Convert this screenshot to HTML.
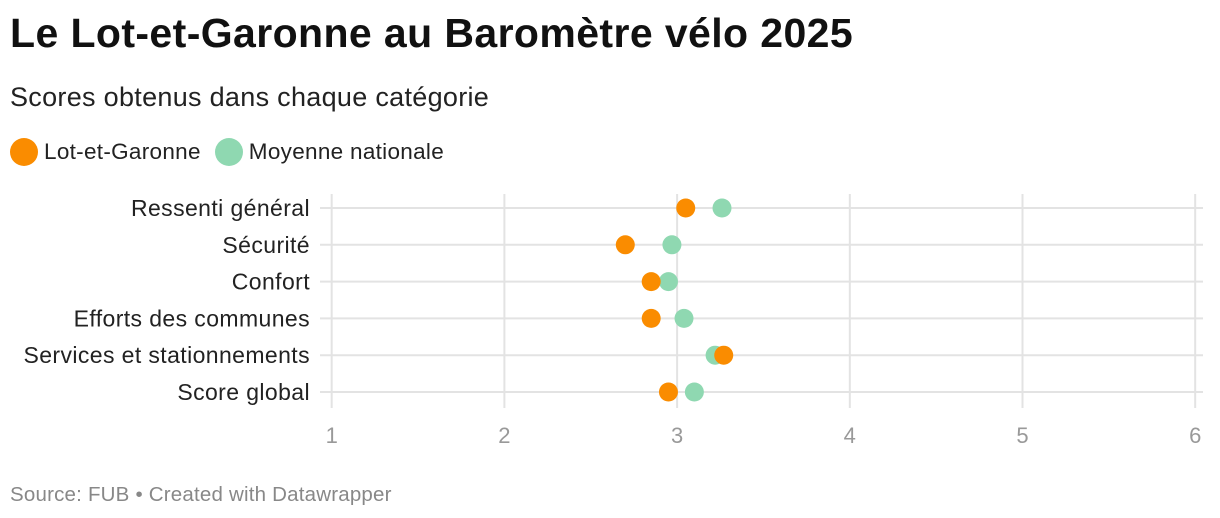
<!DOCTYPE html>
<html><head><meta charset="utf-8"><style>
body{margin:0;width:1220px;height:518px;background:#fff;font-family:"Liberation Sans",sans-serif;overflow:hidden}
h1{position:absolute;left:10px;top:10px;margin:0;font-size:41px;font-weight:bold;color:#111;letter-spacing:0.4px}
.sub{position:absolute;left:10px;top:82px;font-size:27px;color:#222;letter-spacing:0.3px}
.legend{position:absolute;left:10px;top:138px;font-size:22.5px;color:#222;display:flex;align-items:center;letter-spacing:0.3px}
.dot{width:28px;height:28px;border-radius:50%;display:inline-block;margin-right:6px}
.src{position:absolute;left:10px;top:483px;font-size:20.5px;color:#888;letter-spacing:0.2px}
svg{position:absolute;left:0;top:0}
</style></head><body>
<h1>Le Lot-et-Garonne au Baromètre vélo 2025</h1>
<div class="sub">Scores obtenus dans chaque catégorie</div>
<div class="legend">
<span class="dot" style="background:#fa8c00"></span><span style="margin-right:14px">Lot-et-Garonne</span>
<span class="dot" style="background:#8fd8b1"></span><span>Moyenne nationale</span>
</div>
<svg id="chart" width="1220" height="518"></svg>
<div class="src">Source: FUB • Created with Datawrapper</div>
<script>
const categories=["Ressenti général","Sécurité","Confort","Efforts des communes","Services et stationnements","Score global"];
const lotValues=[3.05,2.70,2.85,2.85,3.27,2.95];
const natValues=[3.26,2.97,2.95,3.04,3.22,3.10];
const ticks=[1,2,3,4,5,6];
const svg=document.getElementById('chart');
const NS='http://www.w3.org/2000/svg';
const x=v=>331.7+(v-1)*172.7;
const y=i=>208+i*36.8;
function mk(t,a){const e=document.createElementNS(NS,t);for(const k in a)e.setAttribute(k,a[k]);svg.appendChild(e);return e;}
ticks.forEach(t=>{
 const l=mk('line',{x1:x(t),x2:x(t),y1:194,y2:408,stroke:'#e3e3e3','stroke-width':2});
 
 
 const tx=mk('text',{x:x(t),y:443,'text-anchor':'middle','font-size':22,fill:'#999','font-family':'Liberation Sans, sans-serif'});
 tx.textContent=t;
 
 
});
categories.forEach((c,i)=>{
 const l=mk('line',{x1:320,x2:1203,y1:y(i),y2:y(i),stroke:'#e3e3e3','stroke-width':2});
 
 
 const tx=mk('text',{x:310,y:y(i)+8,'text-anchor':'end','font-size':23,'letter-spacing':0.4,fill:'#222','font-family':'Liberation Sans, sans-serif'});
 tx.textContent=c;
 
 
});
categories.forEach((c,i)=>{
 const n=mk('circle',{cx:x(natValues[i]),cy:y(i),r:9.5,fill:'#8fd8b1'});
 
 
});
categories.forEach((c,i)=>{
 const d=mk('circle',{cx:x(lotValues[i]),cy:y(i),r:9.5,fill:'#fa8c00'});
 
 
});
</script>
</body></html>
